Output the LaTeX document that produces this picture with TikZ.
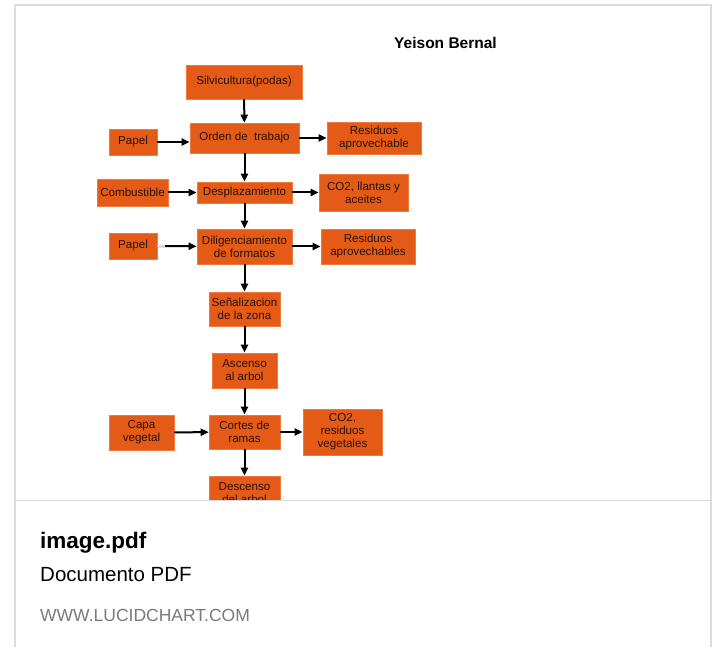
\documentclass[tikz,border=0pt]{standalone}
\usepackage{fontspec}
\setmainfont{Liberation Sans}
\usetikzlibrary{arrows.meta}
\definecolor{boxor}{HTML}{E35B17}
\definecolor{boxedge}{HTML}{EE7A40}
\definecolor{boxtxt}{HTML}{2A1205}
\definecolor{cardline}{HTML}{DCDCDC}
\definecolor{urlgray}{HTML}{7A7A7A}
\tikzset{
  box/.style={fill=boxor, draw=boxedge, line width=0.6pt, text=boxtxt, align=center,
    font=\fontsize{11.6}{13}\selectfont, inner sep=0pt},
  flow/.style={-{Triangle[length=8pt,width=7pt]}, line width=2pt, black},
  foot/.style={anchor=base west, inner sep=0pt},
}
\begin{document}
\begin{tikzpicture}[x=1pt,y=-1pt]
\useasboundingbox (0,0) rectangle (716,647);
\fill[white] (0,0) rectangle (716,647);
% card
\draw[cardline, line width=1.5pt] (15,647) -- (15,5) -- (711,5) -- (711,647);
\draw[cardline, line width=1.5pt] (15,500.5) -- (711,500.5);
\node[font=\bfseries\fontsize{15.5}{17}\selectfont, anchor=center] (title) at (445.5,43) {Yeison Bernal};
\begin{scope}
\clip (16,6) rectangle (710,499.5);
% boxes: center, width, height
\node[box, minimum width=116pt, minimum height=34pt] (silv) at (244,82) {Silvicultura(podas)};
\node[box, minimum width=109pt, minimum height=30pt] (orden) at (244.5,138) {Orden de\ \ trabajo};
\node[box, minimum width=48pt, minimum height=26pt] (papel1) at (133,142) {Papel};
\node[box, minimum width=94pt, minimum height=32pt] (res1) at (374,138) {Residuos\\aprovechable};
\node[box, minimum width=71pt, minimum height=27pt] (comb) at (132.5,192.5) {Combustible};
\node[box, minimum width=95pt, minimum height=21pt] (despl) at (244.5,192.5) {Desplazamiento};
\node[box, minimum width=89pt, minimum height=37pt] (co2a) at (363.5,192.5) {CO2, llantas y\\aceites};
\node[box, minimum width=48pt, minimum height=26pt] (papel2) at (133,246) {Papel};
\node[box, minimum width=95pt, minimum height=35pt] (dilig) at (244.5,246.5) {Diligenciamiento\\de formatos};
\node[box, minimum width=94pt, minimum height=35pt] (res2) at (368,246.5) {Residuos\\aprovechables};
\node[box, minimum width=71pt, minimum height=34pt] (senal) at (244.5,309) {Señalizacion\\de la zona};
\node[box, minimum width=65pt, minimum height=35pt] (asc) at (244.5,370.5) {Ascenso\\al arbol};
\node[box, minimum width=71pt, minimum height=34pt] (cortes) at (244.5,432) {Cortes de\\ramas};
\node[box, minimum width=65pt, minimum height=35pt] (capa) at (141.5,432.5) {Capa\\vegetal};
\node[box, minimum width=79pt, minimum height=46pt] (co2b) at (342.5,432) {CO2,\\residuos\\vegetales};
\node[box, minimum width=71pt, minimum height=35pt] (desc) at (244.5,493.5) {Descenso\\del arbol};
% vertical flow
\draw[flow] (silv) -- (orden);
\draw[flow] (orden) -- (despl);
\draw[flow] (despl) -- (dilig);
\draw[flow] (dilig) -- (senal);
\draw[flow] (senal) -- (asc);
\draw[flow] (asc) -- (cortes);
\draw[flow] (cortes) -- (desc);
% inputs
\draw[flow] (papel1.east) -- (orden.west |- papel1.east);
\draw[flow] (comb) -- (despl);
\draw[flow] (papel2) -- (dilig);
\draw[line width=2pt, cardline] (papel2.east) -- ++(8,0);
\draw[flow] (capa) -- (cortes);
% outputs
\draw[flow] (orden) -- (res1);
\draw[flow] (despl) -- (co2a);
\draw[flow] (dilig) -- (res2);
\draw[flow] (cortes) -- (co2b);
\end{scope}
% footer
\node[foot, font=\bfseries\fontsize{22.5}{24}\selectfont] (fname) at (40,548) {image.pdf};
\node[foot, font=\fontsize{20.5}{22}\selectfont] (ftype) at (40,581) {Documento PDF};
\node[foot, font=\fontsize{17.5}{19}\selectfont, text=urlgray] (furl) at (40,621) {WWW.LUCIDCHART.COM};
\end{tikzpicture}
\end{document}
